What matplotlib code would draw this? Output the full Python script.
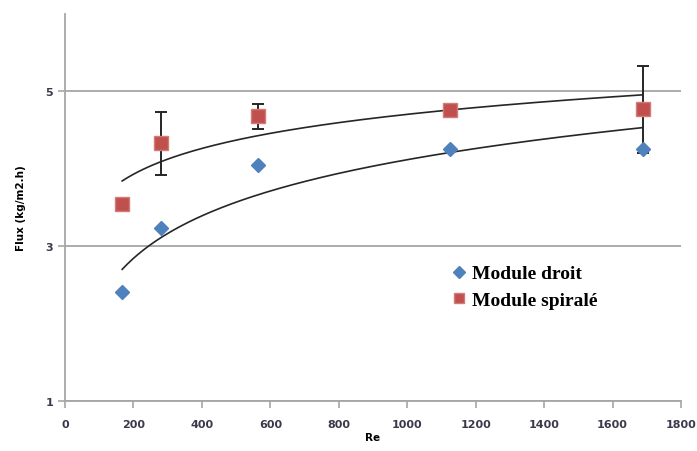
import numpy as np
import matplotlib
matplotlib.use("Agg")
import matplotlib.pyplot as plt

# data
re_vals = [167, 281, 563, 1125, 1688]
flux_droit = [2.41, 3.24, 4.05, 4.26, 4.26]
flux_spirale = [3.54, 4.33, 4.68, 4.76, 4.77]
err_spirale = [0.0, 0.41, 0.16, 0.0, 0.56]

blue = "#4F81BD"
red = "#C0504D"
grey = "#A6A6A6"

fig = plt.figure(figsize=(6.97, 4.52), dpi=100)
ax = fig.add_axes([0.0933, 0.1106, 0.8837, 0.8562])

# logarithmic trendlines (least squares on ln(Re), like excel)
xs = np.linspace(min(re_vals), max(re_vals), 200)
for ys in (flux_droit, flux_spirale):
    a, b = np.polyfit(np.log(re_vals), ys, 1)
    ax.plot(xs, a * np.log(xs) + b, color="#262626", lw=1.2, zorder=3)

ax.errorbar(re_vals, flux_spirale, yerr=err_spirale, fmt="none",
            ecolor="#262626", elinewidth=1.4, capsize=4, capthick=1.4, zorder=4)
ax.plot(re_vals, flux_droit, "D", color=blue, ms=7.5, mec=blue,
        ls="none", label="Module droit", zorder=5)
ax.plot(re_vals, flux_spirale, "s", color=red, ms=9.5, mec="#D47B78",
        ls="none", label="Module spiralé", zorder=5)

ax.set_xlim(0, 1800)
ax.set_ylim(1, 6)
ax.set_xticks(np.arange(0, 1801, 200))
ax.set_yticks([1, 3, 5])
ax.grid(axis="y", color=grey, lw=1.3)
ax.set_axisbelow(True)

for s in ("top", "right"):
    ax.spines[s].set_visible(False)
for s in ("left", "bottom"):
    ax.spines[s].set_color(grey)
    ax.spines[s].set_linewidth(1.3)
ax.tick_params(colors=grey, length=5, width=1.2, direction="out",
               labelcolor="#3A3A4A", labelsize=8)
for lab in ax.get_xticklabels() + ax.get_yticklabels():
    lab.set_fontweight("bold")
ax.tick_params(axis="x", pad=8)

ax.set_xlabel("Re", fontsize=7.5, fontweight="bold", labelpad=2)
ax.set_ylabel("Flux (kg/m2.h)", fontsize=7.5, fontweight="bold", labelpad=14)

leg = ax.legend(loc="upper left", bbox_to_anchor=(0.595, 0.397), frameon=False,
                prop={"family": "Liberation Serif", "weight": "bold", "size": 14},
                handletextpad=0.2, labelspacing=0.45, handlelength=1.0,
                markerscale=0.75)

fig.savefig("out.png", dpi=100)
